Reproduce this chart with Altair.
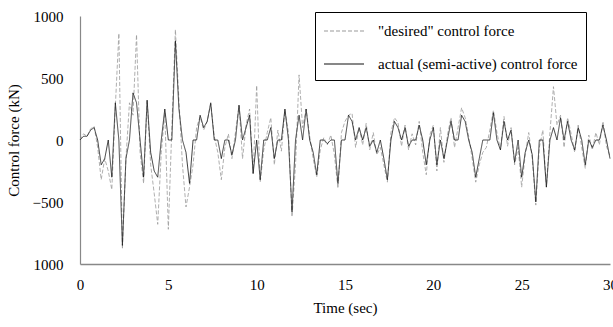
import altair as alt
import pandas as pd

# time axis (s), step 0.2 s
time_s = [round(0.2 * i, 1) for i in range(151)]

desired = [
    0, 50, 30, 90, 110, -60, -320, -150, -250, -400,
    270, 860, -880, -150, 300, 200, 850, -100, -350, 320,
    -200, -430, -680, -100, 220, -720, 100, 890, 320, -200,
    -540, -380, -200, 100, 190, 80, 150, 290, 30, -100,
    -320, -60, 50, -150, 60, 280, -150, 120, 250, -270,
    440, -340, -80, 60, 180, -200, 80, -90, 240, 60,
    -620, -200, 525, 100, 250, 30, -150, -300, -80, 20,
    -40, 40, -120, -390, 60, 150, 200, 215, -60, 100,
    -40, 135, -80, 60, -120, -60, -200, -340, 60, 180,
    140, -50, 120, -80, 50, -40, 150, -100, -280, 40,
    120, -250, 100, -180, 40, 180, -60, 100, 260, 180,
    30, -150, -340, -200, -100, -60, 80, 240, 60, -80,
    190, -50, 100, -200, -60, -380, -120, 60, -150, -525,
    -60, 80, -380, 60, 430, 120, 200, -60, 180, 50,
    -100, 120, -60, -230, 40, -80, 60, -40, 150, -50,
    -130,
]

actual = [
    0, 30, 30, 80, 100, 0, -200, -150, 0, -300,
    300, 0, -850, -150, 0, 380, 300, 0, -300, 320,
    -100, -250, -300, 0, 250, 0, 0, 800, 250, 0,
    -100, -350, 0, 0, 200, 100, 150, 300, 0, 0,
    -150, 0, 0, -120, 0, 280, 0, 100, 200, -270,
    0, -320, 0, 0, 100, -150, 0, 0, 250, 0,
    -580, 0, 200, 0, 250, 0, -100, -280, 0, 0,
    -30, 0, 0, -350, 0, 0, 200, 150, 0, 100,
    0, 100, -50, 0, -100, 0, -150, -320, 0, 150,
    100, 0, 100, -50, 0, 0, 120, 0, -200, 0,
    100, -200, 0, -150, 0, 150, 0, 0, 200, 150,
    0, -100, -300, -150, 0, 0, 0, 220, 0, -80,
    150, 0, 80, -180, 0, -300, -100, 0, -120, -500,
    0, 0, -380, 0, 100, 0, 180, 0, 150, 0,
    -80, 100, 0, -200, 0, -60, 0, 0, 120, 0,
    -150,
]

series_names = ['"desired" control force', "actual (semi-active) control force"]
y_ticks = [-1000, -500, 0, 500, 1000]
x_ticks = [0, 5, 10, 15, 20, 25, 30]

df = pd.concat([
    pd.DataFrame({"t": time_s, "f": desired, "s": series_names[0], "o": 0}),
    pd.DataFrame({"t": time_s, "f": actual, "s": series_names[1], "o": 1}),
])

FONT = "Liberation Serif"

chart = alt.Chart(df).mark_line(strokeWidth=0.8).encode(
    x=alt.X("t:Q", scale=alt.Scale(domain=[0, 30], nice=False),
            axis=alt.Axis(title="Time (sec)", values=x_ticks, grid=False, ticks=False,
                          tickSize=0, labelPadding=13, titlePadding=8, format="d",
                          domainColor="#888", domainWidth=1.3,
                          labelFont=FONT, labelFontSize=15, labelColor="black",
                          titleFont=FONT, titleFontSize=15, titleColor="black",
                          titleFontWeight="normal", labelFlush=False)),
    y=alt.Y("f:Q", scale=alt.Scale(domain=[-1000, 1000], nice=False),
            axis=alt.Axis(title="Control force (kN)", values=y_ticks, grid=False, ticks=False,
                          tickSize=0, labelPadding=17, titlePadding=11, format="d",
                          domainColor="#888", domainWidth=1.2,
                          labelFont=FONT, labelFontSize=15, labelColor="black",
                          titleFont=FONT, titleFontSize=15, titleColor="black",
                          titleFontWeight="normal",
                          labelExpr="datum.value == -1000 ? '1000' : datum.label")),
    color=alt.Color("s:N", scale=alt.Scale(domain=series_names, range=["#9a9a9a", "#111111"]),
                    legend=alt.Legend(title=None, orient="none", legendX=235, legendY=-4,
                                      symbolType="M-1,0H3", symbolSize=400,
                                      symbolStrokeWidth=1.1, labelOffset=33,
                                      rowPadding=14, padding=8,
                                      fillColor="white", strokeColor="black",
                                      labelFont=FONT, labelFontSize=15, labelColor="black",
                                      labelLimit=400)),
    strokeDash=alt.StrokeDash("s:N", scale=alt.Scale(domain=series_names, range=[[4, 2], [1, 0]]),
                              legend=alt.Legend(title=None)),
    order="o:Q",
    detail="s:N",
).properties(
    width=530, height=248,
    autosize=alt.AutoSizeParams(type="none"),
    padding={"left": 80, "top": 16, "right": 3, "bottom": 63},
    background="white",
).configure_view(stroke=None).configure_legend(
    labelFont=FONT, labelFontSize=15, labelColor="black",
).configure_axis(
    labelFont=FONT, titleFont=FONT,
)

chart.save("out.html", embed_options={"renderer": "svg", "actions": False})
